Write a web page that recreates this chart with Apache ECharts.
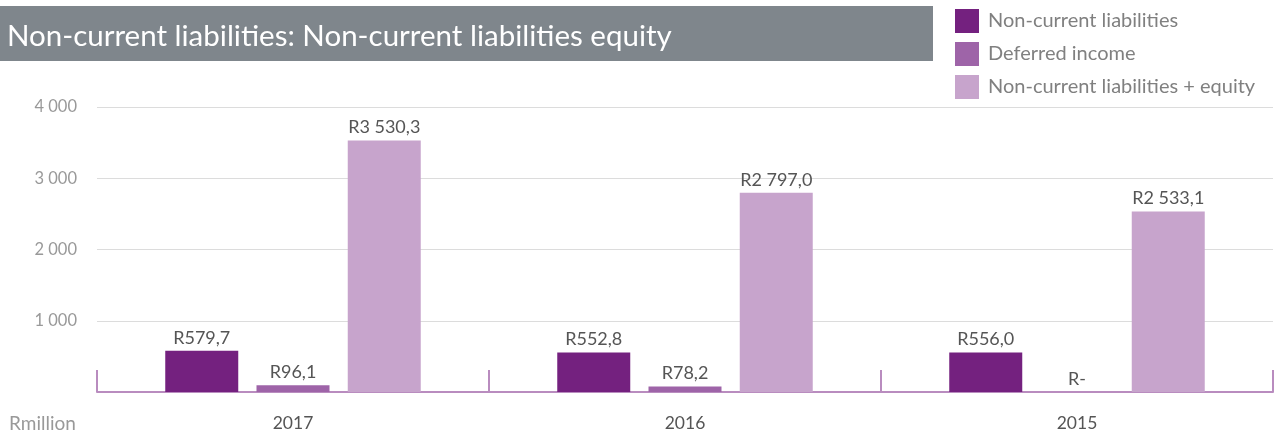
<!DOCTYPE html>
<html>
<head>
<meta charset="utf-8">
<script src="https://cdn.jsdelivr.net/npm/echarts@6/dist/echarts.min.js"></script>
<style>
  html, body { margin: 0; padding: 0; background: #fff; }
  #chart { width: 1274px; height: 432px; }
</style>
</head>
<body>
<div id="chart"></div>
<script>
// Years shown along the category axis
const years = ['2017', '2016', '2015'];

// Values in R million
const nonCurrentLiabilities = [579.7, 552.8, 556.0];
const deferredIncome = [96.1, 78.2, 0];
const liabilitiesPlusEquity = [3530.3, 2797.0, 2533.1];

const seriesNames = ['Non-current liabilities', 'Deferred income', 'Non-current liabilities + equity'];
const colors = ['#74217f', '#9e64a8', '#c7a4cc'];

const FONT = 'Lato, "Open Sans", sans-serif';

// "R3 530,3" style: space thousands separator, comma decimal, "R-" for nil
function money(v) {
  if (v === 0) return 'R-';
  const parts = v.toFixed(1).split('.');
  const intPart = parts[0].replace(/\B(?=(\d{3})+(?!\d))/g, ' ');
  return 'R' + intPart + ',' + parts[1];
}

function tick(v) {
  if (v === 0) return '';
  return String(v).replace(/\B(?=(\d{3})+(?!\d))/g, ' ');
}

const chart = echarts.init(document.getElementById('chart'));

function makeSeries(name, data, color) {
  return {
    name: name,
    type: 'bar',
    data: data,
    barWidth: 73,
    barGap: '25%',
    itemStyle: { color: color },
    label: {
      show: true,
      position: 'top',
      distance: 4,
      fontFamily: FONT,
      fontSize: 18,
      color: '#555',
      formatter: p => money(p.value)
    }
  };
}

chart.setOption({
  animation: false,
  textStyle: { fontFamily: FONT },
  grid: { left: 97, right: 1, top: 107, bottom: 38, containLabel: false },
  graphic: [
    {
      type: 'rect',
      shape: { x: 0, y: 6, width: 933, height: 55 },
      style: { fill: '#7f868c' }
    },
    {
      type: 'text',
      left: 7,
      top: 21,
      style: { text: 'Non-current liabilities: Non-current liabilities equity', fill: '#fff', font: '29.5px ' + FONT }
    },
    {
      type: 'text',
      left: 9,
      top: 414,
      style: { text: 'Rmillion', fill: '#999', font: '19px ' + FONT }
    }
  ],
  legend: {
    orient: 'vertical',
    left: 950,
    top: 4,
    itemWidth: 24,
    itemHeight: 24,
    itemGap: 9,
    icon: 'rect',
    textStyle: { fontFamily: FONT, fontSize: 20, color: '#808080', padding: [0, 0, 0, 4] },
    data: seriesNames
  },
  xAxis: {
    type: 'category',
    data: years,
    axisLine: { show: true, lineStyle: { color: '#b98cbf', width: 2 } },
    axisTick: { show: true, inside: true, length: 22, lineStyle: { color: '#b98cbf', width: 2 } },
    axisLabel: { fontFamily: FONT, fontSize: 17.5, color: '#555', margin: 22 }
  },
  yAxis: {
    type: 'value',
    min: 0,
    max: 4000,
    interval: 1000,
    axisLine: { show: false },
    axisTick: { show: false },
    splitLine: { show: true, lineStyle: { color: '#dcdcdc', width: 1 } },
    axisLabel: { fontFamily: FONT, fontSize: 16.5, color: '#999', margin: 20, formatter: tick }
  },
  series: [
    makeSeries(seriesNames[0], nonCurrentLiabilities, colors[0]),
    makeSeries(seriesNames[1], deferredIncome, colors[1]),
    makeSeries(seriesNames[2], liabilitiesPlusEquity, colors[2])
  ]
});
</script>
</body>
</html>
